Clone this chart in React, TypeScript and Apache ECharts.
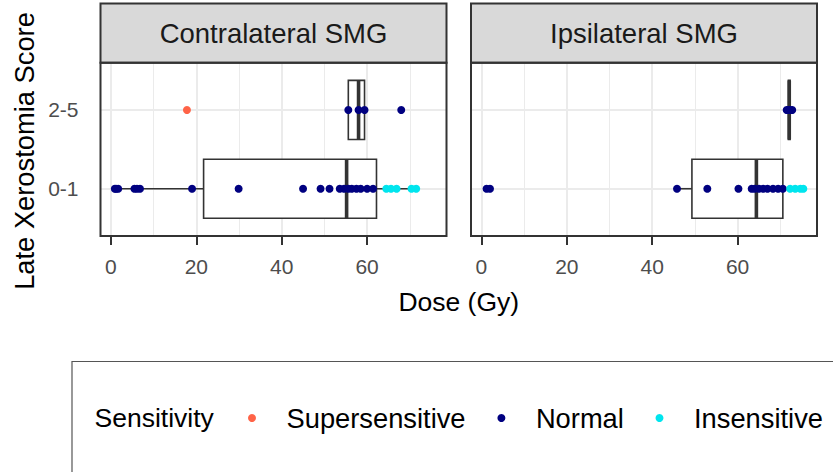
import React, { useEffect, useRef } from "react";
import * as echarts from "echarts";

// ---- data ----
const CATS = ["0-1", "2-5"];
const X_TICKS = [0, 20, 40, 60];
const X_MINOR = [10, 30, 50, 70];
const PANEL_TITLES = ["Contralateral SMG", "Ipsilateral SMG"];
const SENS = ["Supersensitive", "Normal", "Insensitive"];
const SENS_COLORS = ["#FF6347", "#000080", "#00E5EE"];

// Contralateral SMG doses (Gy)
const contraSuper01: number[] = [];
const contraNormal01 = [0.9, 1.2, 1.7, 5.5, 6.1, 6.8, 19.0, 29.9, 45.0, 49.1, 51.2, 53.6, 54.6, 55.6, 56.4, 57.5, 58.5, 60.0, 61.4];
const contraInsens01 = [64.5, 65.6, 66.9, 70.4, 71.5];
const contraSuper25 = [17.8];
const contraNormal25 = [55.6, 58.0, 59.4, 68.0];
const contraInsens25: number[] = [];

// Ipsilateral SMG doses (Gy)
const ipsiSuper01: number[] = [];
const ipsiNormal01 = [1.2, 2.0, 45.8, 52.9, 60.2, 63.3, 64.0, 65.0, 66.0, 67.0, 68.3, 69.5, 70.6];
const ipsiInsens01 = [72.3, 73.5, 74.7, 75.4];
const ipsiSuper25: number[] = [];
const ipsiNormal25 = [71.5, 71.9, 72.1, 72.4, 72.8];
const ipsiInsens25: number[] = [];

// Box summaries [whisker low, Q1, median, Q3, whisker high]
const contraBox01 = [0.9, 21.7, 55.2, 62.2, 71.5];
const contraBox25 = [55.6, 55.6, 58.0, 59.4, 59.4];
const ipsiBox01 = [45.8, 49.3, 64.4, 70.6, 75.4];
const ipsiBox25 = [71.9, 71.9, 72.1, 72.3, 72.3];

const X_MIN = -2.45;
const X_MAX = 78.6;

// ---- layout ----
const FONT = "Liberation Sans, Arial, sans-serif";
const PANEL_LEFTS = [100.5, 471];
const PANEL_W = 346;
const PANEL_TOP = 62.7;
const PANEL_H = 173.3;
const STRIP_TOP = 3.5;
const LEGEND_LEFTS = [248, 497.4, 655.5];

export default function App() {
  const ref = useRef<HTMLDivElement>(null);

  useEffect(() => {
    if (!ref.current) return;
    const chart = echarts.init(ref.current, null, { renderer: "svg" });

    const pointSets = [
      [
        [contraSuper01, contraSuper25],
        [contraNormal01, contraNormal25],
        [contraInsens01, contraInsens25],
      ],
      [
        [ipsiSuper01, ipsiSuper25],
        [ipsiNormal01, ipsiNormal25],
        [ipsiInsens01, ipsiInsens25],
      ],
    ];
    const boxSets = [
      [contraBox01, contraBox25],
      [ipsiBox01, ipsiBox25],
    ];

    const grids: any[] = [];
    const xAxes: any[] = [];
    const yAxes: any[] = [];
    const series: any[] = [];
    const graphics: any[] = [];

    PANEL_LEFTS.forEach((left, p) => {
      grids.push({ left, top: PANEL_TOP, width: PANEL_W, height: PANEL_H, containLabel: false });
      xAxes.push({
        type: "value",
        gridIndex: p,
        min: X_MIN,
        max: X_MAX,
        axisLine: { show: false },
        splitLine: { show: false },
        axisTick: {
          show: true,
          customValues: X_TICKS,
          length: 9,
          lineStyle: { color: "#333333", width: 2 },
        },
        axisLabel: {
          customValues: X_TICKS,
          margin: 20,
          fontSize: 21,
          color: "#4D4D4D",
          fontFamily: FONT,
        },
      });
      yAxes.push({
        type: "value",
        gridIndex: p,
        min: 0.4,
        max: 2.6,
        axisLine: { show: false },
        splitLine: { show: false },
        axisTick: {
          show: p === 0,
          customValues: [1, 2],
          length: 9,
          lineStyle: { color: "#333333", width: 2 },
        },
        axisLabel: {
          show: p === 0,
          customValues: [1, 2],
          margin: 22,
          fontSize: 21,
          color: "#4D4D4D",
          fontFamily: FONT,
          formatter: (v: number) => CATS[Math.round(v) - 1] ?? "",
        },
      });

      // grid lines
      const gl: any[] = [];
      X_MINOR.forEach((v) => gl.push({ xAxis: v, lineStyle: { width: 1, color: "#EBEBEB", type: "solid" } }));
      X_TICKS.forEach((v) => gl.push({ xAxis: v, lineStyle: { width: 2, color: "#EBEBEB", type: "solid" } }));
      [1, 2].forEach((v) => gl.push({ yAxis: v, lineStyle: { width: 2, color: "#EBEBEB", type: "solid" } }));
      series.push({
        type: "scatter",
        name: "_grid" + p,
        xAxisIndex: p,
        yAxisIndex: p,
        data: [],
        silent: true,
        z: 1,
        markLine: {
          silent: true,
          symbol: "none",
          z: 1,
          animation: false,
          label: { show: false },
          emphasis: { disabled: true },
          data: gl,
        },
      });

      // boxes
      const boxData = boxSets[p].map((b, i) => [i + 1, ...b]);
      series.push({
        type: "custom",
        name: "_box" + p,
        xAxisIndex: p,
        yAxisIndex: p,
        z: 2,
        silent: true,
        encode: { x: [1, 2, 3, 4, 5], y: 0 },
        data: boxData,
        renderItem: (params: any, api: any) => {
          const y = api.value(0);
          const lo = api.coord([api.value(1), y]);
          const q1 = api.coord([api.value(2), y]);
          const md = api.coord([api.value(3), y]);
          const q3 = api.coord([api.value(4), y]);
          const hi = api.coord([api.value(5), y]);
          const h = Math.abs(api.size([0, 0.75])[1]);
          const st = { stroke: "#333333", lineWidth: 1.6, fill: null };
          return {
            type: "group",
            children: [
              { type: "line", shape: { x1: lo[0], y1: lo[1], x2: q1[0], y2: q1[1] }, style: st },
              { type: "line", shape: { x1: q3[0], y1: q3[1], x2: hi[0], y2: hi[1] }, style: st },
              {
                type: "rect",
                shape: { x: q1[0], y: q1[1] - h / 2, width: q3[0] - q1[0], height: h },
                style: { fill: "#FFFFFF", stroke: "#333333", lineWidth: 1.6 },
              },
              {
                type: "line",
                shape: { x1: md[0], y1: md[1] - h / 2, x2: md[0], y2: md[1] + h / 2 },
                style: { stroke: "#333333", lineWidth: 3.6 },
              },
            ],
          };
        },
      });

      // points
      SENS.forEach((name, s) => {
        const [d01, d25] = pointSets[p][s];
        const data = [...d01.map((x) => [x, 1]), ...d25.map((x) => [x, 2])];
        series.push({
          type: "scatter",
          name,
          xAxisIndex: p,
          yAxisIndex: p,
          z: 3,
          symbol: "circle",
          symbolSize: 8,
          itemStyle: { color: SENS_COLORS[s], opacity: 1 },
          data,
        });
      });

      // strip
      graphics.push({
        type: "rect",
        z: 10,
        shape: { x: left, y: STRIP_TOP, width: PANEL_W, height: PANEL_TOP - STRIP_TOP },
        style: { fill: "#D9D9D9", stroke: "#333333", lineWidth: 2 },
      });
      graphics.push({
        type: "text",
        z: 11,
        x: left + PANEL_W / 2,
        y: (STRIP_TOP + PANEL_TOP) / 2,
        style: {
          text: PANEL_TITLES[p],
          fontSize: 27.5,
          fontFamily: FONT,
          fill: "#1A1A1A",
          align: "center",
          verticalAlign: "middle",
        },
      });
      // panel border
      graphics.push({
        type: "rect",
        z: 100,
        shape: { x: left, y: PANEL_TOP, width: PANEL_W, height: PANEL_H },
        style: { fill: null, stroke: "#333333", lineWidth: 2 },
      });
    });

    // axis titles
    graphics.push({
      type: "text",
      z: 10,
      x: (PANEL_LEFTS[0] + PANEL_LEFTS[1] + PANEL_W) / 2,
      y: 302,
      style: { text: "Dose (Gy)", fontSize: 26.5, fontFamily: FONT, fill: "#000000", align: "center", verticalAlign: "middle" },
    });
    graphics.push({
      type: "text",
      z: 10,
      x: 24,
      y: 151,
      rotation: Math.PI / 2,
      style: { text: "Late Xerostomia Score", fontSize: 27.3, fontFamily: FONT, fill: "#000000", align: "center", verticalAlign: "middle" },
    });
    // legend box + title
    graphics.push({
      type: "rect",
      z: 1,
      shape: { x: 72, y: 361.5, width: 900, height: 200 },
      style: { fill: null, stroke: "#555555", lineWidth: 1.2 },
    });
    graphics.push({
      type: "text",
      z: 10,
      x: 94.5,
      y: 418,
      style: { text: "Sensitivity", fontSize: 26.5, fontFamily: FONT, fill: "#000000", align: "left", verticalAlign: "middle" },
    });

    const legends = SENS.map((name, i) => ({
      data: [name],
      left: LEGEND_LEFTS[i],
      top: 403,
      padding: 0,
      orient: "horizontal",
      icon: "circle",
      itemWidth: 59,
      itemHeight: 8,
      selectedMode: false,
      textStyle: { fontSize: 27.3, fontFamily: FONT, color: "#000000", lineHeight: 30 },
    }));

    chart.setOption({
      animation: false,
      backgroundColor: "#FFFFFF",
      grid: grids,
      xAxis: xAxes,
      yAxis: yAxes,
      legend: legends,
      graphic: { elements: graphics },
      series,
    });

    return () => chart.dispose();
  }, []);

  return (
    <div
      ref={ref}
      style={{ position: "absolute", left: 0, top: 0, width: 833, height: 472, background: "#fff" }}
    />
  );
}
